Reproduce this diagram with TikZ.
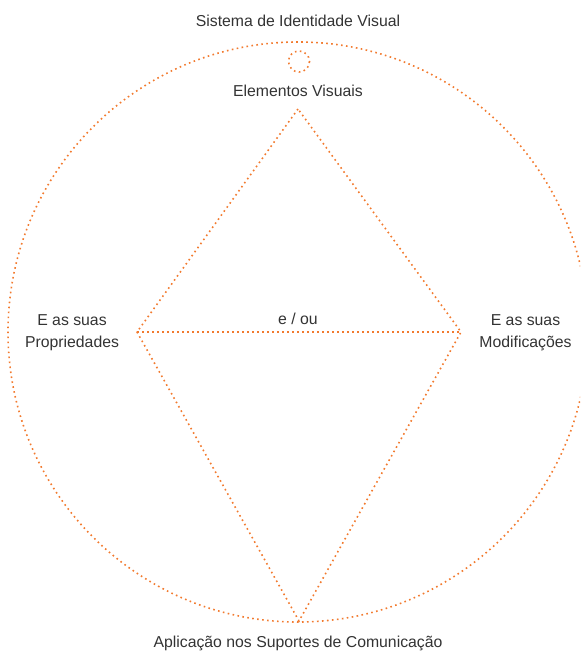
\documentclass[tikz,border=0pt]{standalone}
\usepackage{fontspec}
\setmainfont{Liberation Sans}
\definecolor{dotorange}{HTML}{F27A2E}
\definecolor{txtgray}{HTML}{333333}
\begin{document}
\begin{tikzpicture}[x=1pt,y=-1pt,
  dotline/.style={draw=dotorange,line width=1.6pt,dash pattern=on 1.6pt off 3.4pt},
  lbl/.style={text=txtgray,font=\fontsize{15.8}{22.5}\selectfont,inner sep=0pt,align=center,anchor=base}]
\useasboundingbox (0,0) rectangle (580,652);
\clip (0,0) rectangle (580,652);
% shapes
\coordinate (c0) at (298,332);
\draw[dotline] (c0) circle[radius=290];
\draw[dotline] (299,61.5) circle[radius=10.5];
\coordinate (top) at (298,109);
\coordinate (lft) at (137,332);
\coordinate (rgt) at (461,332);
\coordinate (bot) at (299,621);
\draw[dotline] (top) -- (lft) -- (bot) -- (rgt) -- cycle;
\draw[dotline] (lft) -- (rgt);
% labels
\node[lbl] (t1) at (298,26.5) {Sistema de Identidade Visual};
\node[lbl] (t2) at (298,96.5) {Elementos Visuais};
\node[lbl] (t3) at (298,324.5) {e / ou};
\node[lbl] (t4) at (72,347.5) {E as suas\\Propriedades};
\node[lbl] (t5) at (525.5,347.5) {E as suas\\Modificações};
\node[lbl] (t6) at (298,647) {Aplicação nos Suportes de Comunicação};
\end{tikzpicture}
\end{document}
